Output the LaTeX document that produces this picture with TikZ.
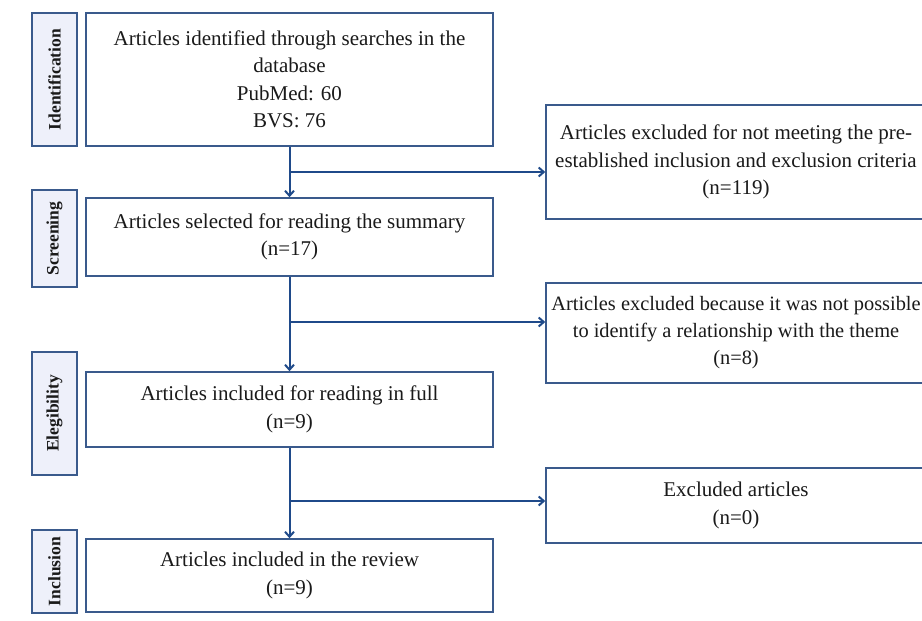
\documentclass[tikz,border=0pt]{standalone}
\usepackage{fontspec}
\setmainfont{Liberation Serif}
\usetikzlibrary{arrows.meta}
\definecolor{bord}{HTML}{3A5A8C}
\definecolor{arrcol}{HTML}{1F4A8A}
\definecolor{sidefill}{HTML}{EEF0FA}
\definecolor{txt}{HTML}{1A1A1A}
\begin{document}
\begin{tikzpicture}[x=1pt,y=-1pt,
  boxbase/.style={draw=bord, line width=1.6pt, fill=white, inner sep=0pt, align=center, text=txt, font=\fontsize{21}{27.5}\selectfont},
  mainbox/.style={boxbase, minimum width=407pt, minimum height=#1},
  rightbox/.style={boxbase, minimum width=380pt, minimum height=#1},
  sidebox/.style={draw=bord, line width=1.6pt, fill=sidefill, inner sep=0pt, rotate=90, minimum height=45pt, minimum width=#1, text=txt, font=\fontsize{17.5}{20}\selectfont\bfseries},
  arr/.style={draw=arrcol, line width=2pt, -{Straight Barb[length=5pt,width=9pt]}}
]
\useasboundingbox (0,0) rectangle (922,621);
\clip (0,0) rectangle (922,621);
\fill[white] (0,0) rectangle (922,621);

% side labels
\node[sidebox=133pt] (s1) at (54.5,79.5) {Identification};
\node[sidebox=97pt]  (s2) at (54.5,238.5) {Screening};
\node[sidebox=123pt] (s3) at (54.5,413.5) {Elegibility};
\node[sidebox=83pt]  (s4) at (54.5,571.5) {Inclusion};

% main column
\node[mainbox=133pt] (m1) at (289.5,79.5) {Articles identified through searches in the\\database\\PubMed: 60\\BVS: 76};
\node[mainbox=78pt] (m2) at (289.5,237) {Articles selected for reading the summary\\(n=17)};
\node[mainbox=75pt] (m3) at (289.5,409.5) {Articles included for reading in full\\(n=9)};
\node[mainbox=73pt] (m4) at (289.5,575.5) {Articles included in the review\\(n=9)};

% right column (right edges run past the picture's edge)
\node[rightbox=114pt] (r1) at (736,162) {Articles excluded for not meeting the pre-\\established inclusion and exclusion criteria\\(n=119)};
\node[rightbox=100pt, font=\fontsize{20.4}{27}\selectfont] (r2) at (736,333) {Articles excluded because it was not possible\\to identify a relationship with the theme\\(n=8)};
\node[rightbox=75pt] (r3) at (736,505.5) {Excluded articles\\(n=0)};

% connectors
\draw[arr] (m1.south) -- (m2.north);
\draw[arr] (m2.south) -- (m3.north);
\draw[arr] (m3.south) -- (m4.north);
\coordinate (j1) at (289.5,172);
\coordinate (j2) at (289.5,322);
\coordinate (j3) at (289.5,501);
\draw[arr] (j1) -- (j1 -| r1.west);
\draw[arr] (j2) -- (j2 -| r2.west);
\draw[arr] (j3) -- (j3 -| r3.west);
\end{tikzpicture}
\end{document}
